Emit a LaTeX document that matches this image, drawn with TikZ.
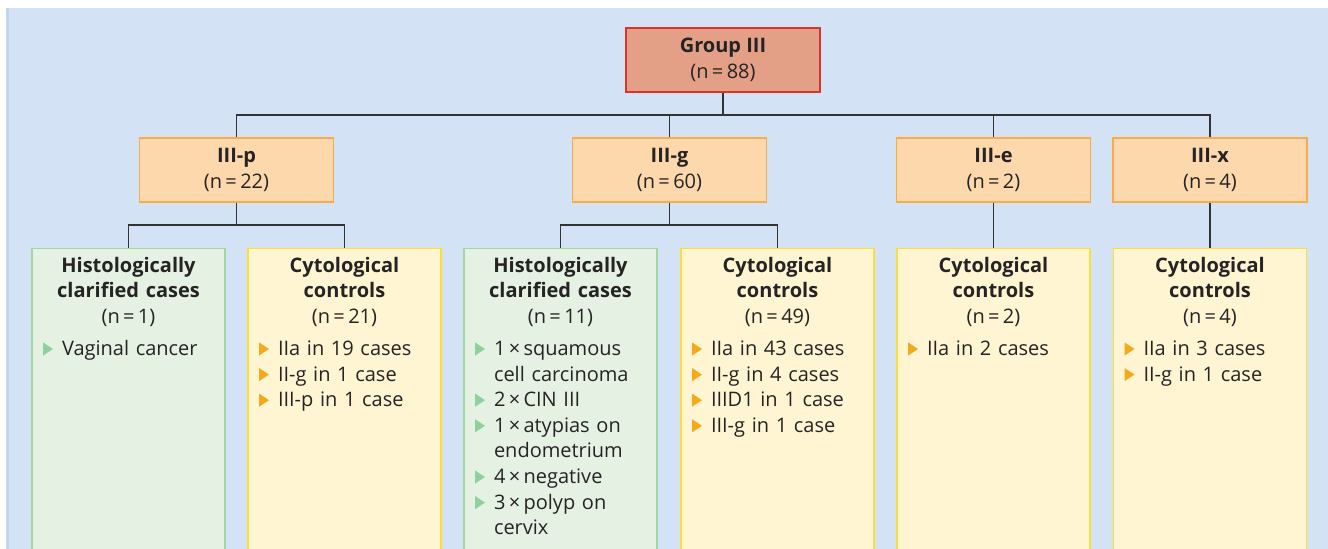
\documentclass[tikz,border=0pt]{standalone}
\usepackage{fontspec}
\setmainfont{Open Sans}
\usetikzlibrary{positioning}
\setlength{\parindent}{0pt}

\definecolor{bgblue}{HTML}{D3E2F4}
\definecolor{bgedge}{HTML}{C3D6EC}
\definecolor{txt}{HTML}{262324}
\definecolor{grpfill}{HTML}{E3A086}
\definecolor{grpline}{HTML}{D7352A}
\definecolor{subfill}{HTML}{FDD8AC}
\definecolor{subline}{HTML}{F6AC4C}
\definecolor{histfill}{HTML}{E5F1E3}
\definecolor{histline}{HTML}{A3D6A5}
\definecolor{cytfill}{HTML}{FFF5D3}
\definecolor{cytline}{HTML}{FBDD3C}
\definecolor{greenarr}{HTML}{8ED19A}
\definecolor{orangearr}{HTML}{F6A91B}

\newcommand{\arrowbullet}[1]{\tikz[baseline=0pt,x=1pt,y=1pt]\fill[#1] (0,0) -- (0,6.6) -- (5,3.3) -- cycle;}
\newcommand{\casehead}[2]{{\centering\bfseries #1\par}{\centering(n\,=\,#2)\par}\vspace{3.2pt}}
\newcommand{\caseitem}[2]{\hangindent=9.5pt\hangafter=1\noindent\makebox[9.5pt][l]{\arrowbullet{#1}}#2\par}

\begin{document}
\begin{tikzpicture}[x=0.5pt, y=-0.5pt,
    grpbox/.style={draw=grpline, fill=grpfill, line width=0.6pt, minimum width=97pt, minimum height=32pt, inner sep=0pt, align=center, text=txt, font=\fontsize{10}{13}\selectfont},
    subbox/.style={grpbox, draw=subline, fill=subfill},
    histbox/.style={draw=histline, fill=histfill, line width=0.6pt, minimum width=96.5pt, minimum height=170pt, inner sep=0pt, anchor=north},
    cytbox/.style={histbox, draw=cytline, fill=cytfill},
    boxtext/.style={anchor=north, inner sep=0pt, text width=85.5pt, align=left, text=txt, font=\fontsize{10}{12.8}\selectfont},
    conn/.style={draw=black!80, line width=0.6pt}]

    \useasboundingbox (0,0) rectangle (1328,549);
    \clip (0,0) rectangle (1328,549);

    \fill[bgblue] (6,8) rectangle (1328,549);
    \fill[bgedge] (6,8) rectangle (8.5,549);

    % top
    \node[grpbox] (grp) at (723,60) {\textbf{Group III}\\(n\,=\,88)};

    % second row
    \node[subbox] (p) at (236.5,170) {\textbf{III-p}\\(n\,=\,22)};
    \node[subbox] (g) at (669.5,170) {\textbf{III-g}\\(n\,=\,60)};
    \node[subbox] (e) at (993.5,170) {\textbf{III-e}\\(n\,=\,2)};
    \node[subbox] (x) at (1210,170) {\textbf{III-x}\\(n\,=\,4)};

    % third row
    \node[histbox] (histp) at (128.5,248) {};
    \node[cytbox] (cytp) at (344.5,248) {};
    \node[histbox] (histg) at (560.5,248) {};
    \node[cytbox] (cytg) at (777.5,248) {};
    \node[cytbox] (cyte) at (993.5,248) {};
    \node[cytbox] (cytx) at (1210,248) {};

    \node[boxtext] (histptext) at ([yshift=-4.4pt]histp.north) {%
        \casehead{Histologically\\clarified cases}{1}
        \caseitem{greenarr}{Vaginal cancer}};
    \node[boxtext] (cytptext) at ([yshift=-4.4pt]cytp.north) {%
        \casehead{Cytological\\controls}{21}
        \caseitem{orangearr}{IIa in 19 cases}
        \caseitem{orangearr}{II-g in 1 case}
        \caseitem{orangearr}{III-p in 1 case}};
    \node[boxtext] (histgtext) at ([yshift=-4.4pt]histg.north) {%
        \casehead{Histologically\\clarified cases}{11}
        \caseitem{greenarr}{1\,×\,squamous\newline cell carcinoma}
        \caseitem{greenarr}{2\,×\,CIN III}
        \caseitem{greenarr}{1\,×\,atypias on\newline endometrium}
        \caseitem{greenarr}{4\,×\,negative}
        \caseitem{greenarr}{3\,×\,polyp on\newline cervix}};
    \node[boxtext] (cytgtext) at ([yshift=-4.4pt]cytg.north) {%
        \casehead{Cytological\\controls}{49}
        \caseitem{orangearr}{IIa in 43 cases}
        \caseitem{orangearr}{II-g in 4 cases}
        \caseitem{orangearr}{IIID1 in 1 case}
        \caseitem{orangearr}{III-g in 1 case}};
    \node[boxtext] (cytetext) at ([yshift=-4.4pt]cyte.north) {%
        \casehead{Cytological\\controls}{2}
        \caseitem{orangearr}{IIa in 2 cases}};
    \node[boxtext] (cytxtext) at ([yshift=-4.4pt]cytx.north) {%
        \casehead{Cytological\\controls}{4}
        \caseitem{orangearr}{IIa in 3 cases}
        \caseitem{orangearr}{II-g in 1 case}};

    % connectors
    \coordinate (bar0) at (723,115);
    \coordinate (barp) at (236.5,225);
    \coordinate (barg) at (669.5,225);

    \draw[conn] (grp.south) -- (bar0);
    \draw[conn] (p.north) |- (bar0) -| (x.north);
    \draw[conn] (g.north) -- (g.north |- bar0);
    \draw[conn] (e.north) -- (e.north |- bar0);

    \draw[conn] (p.south) -- (barp);
    \draw[conn] (histp.north) |- (barp) -| (cytp.north);
    \draw[conn] (g.south) -- (barg);
    \draw[conn] (histg.north) |- (barg) -| (cytg.north);
    \draw[conn] (e.south) -- (cyte.north);
    \draw[conn] (x.south) -- (cytx.north);
\end{tikzpicture}
\end{document}
